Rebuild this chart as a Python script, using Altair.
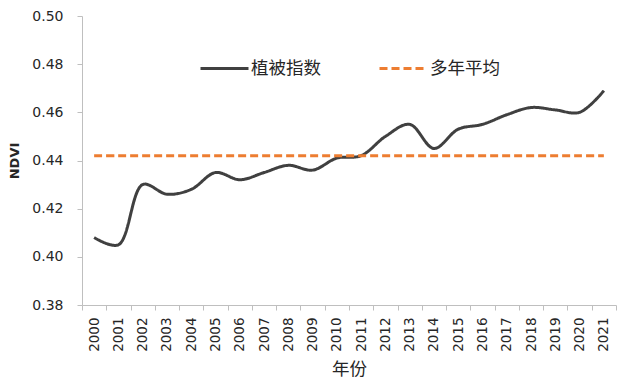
import altair as alt
import pandas as pd

years = ["2000", "2001", "2002", "2003", "2004", "2005", "2006", "2007", "2008", "2009", "2010",
         "2011", "2012", "2013", "2014", "2015", "2016", "2017", "2018", "2019", "2020", "2021"]
ndvi = [0.408, 0.405, 0.430, 0.426, 0.428, 0.435, 0.432, 0.435, 0.438, 0.436, 0.441,
        0.442, 0.450, 0.455, 0.445, 0.453, 0.455, 0.459, 0.462, 0.461, 0.460, 0.469]
avg_value = 0.442
series_names = ["植被指数", "多年平均"]
y_ticks = [0.38, 0.40, 0.42, 0.44, 0.46, 0.48, 0.50]

df = pd.DataFrame({
    "year": years + years,
    "value": ndvi + [avg_value] * len(years),
    "series": [series_names[0]] * len(years) + [series_names[1]] * len(years),
})

legend_common = dict(
    title=None, orient="none", legendX=117, legendY=27, direction="horizontal",
    symbolType="stroke", symbolSize=2304, symbolStrokeWidth=3,
    labelFontSize=17.5, labelFont="Noto Sans CJK SC", labelColor="#262626",
    columnPadding=52, labelOffset=1, padding=0,
)

chart = alt.Chart(df).mark_line(interpolate="catmull-rom", strokeWidth=3).encode(
    x=alt.X("year:O", bandPosition=0.5,
            scale=alt.Scale(type="band", paddingInner=0, paddingOuter=0),
            axis=alt.Axis(title="年份", labelAngle=-90, tickBand="extent", tickSize=5,
                          labelPadding=7, labelFont="DejaVu Sans", labelFontSize=13.5,
                          titleFont="Noto Sans CJK SC", titleFontSize=17.5, titleFontWeight="normal",
                          titlePadding=9)),
    y=alt.Y("value:Q", scale=alt.Scale(domain=[0.38, 0.50], nice=False, zero=False),
            axis=alt.Axis(title="NDVI", values=y_ticks, format=".2f", grid=False, tickSize=5,
                          labelPadding=14, labelFont="DejaVu Sans", labelFontSize=14,
                          titleFont="DejaVu Sans", titleFontSize=13, titleFontWeight="bold",
                          titlePadding=10)),
    color=alt.Color("series:N", scale=alt.Scale(domain=series_names, range=["#404040", "#ED7D31"]),
                    legend=alt.Legend(**legend_common)),
    strokeDash=alt.StrokeDash("series:N", scale=alt.Scale(domain=series_names, range=[[1, 0], [8, 4]]),
                              legend=alt.Legend(**legend_common)),
).properties(
    width=534, height=289,
    autosize=alt.AutoSizeParams(type="none"),
    padding={"left": 74, "top": 8, "right": 10, "bottom": 74},
).configure_view(stroke=None).configure_axis(
    domainColor="#BFBFBF", tickColor="#BFBFBF", labelColor="#262626", titleColor="#262626",
    domainWidth=1, tickWidth=1,
)

chart.save("out.html", embed_options={"renderer": "svg", "actions": False})
